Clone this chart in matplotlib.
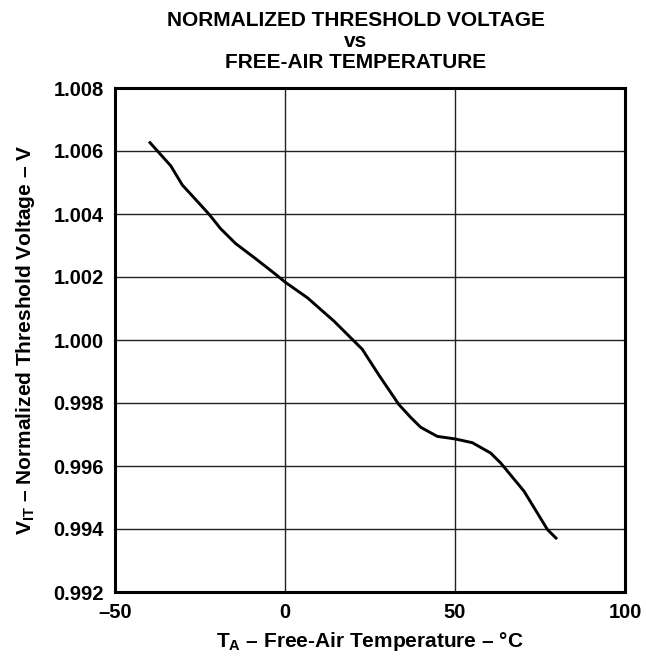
import matplotlib
matplotlib.use("Agg")
import matplotlib.pyplot as plt

plt.rcParams['font.family'] = ['Liberation Sans', 'DejaVu Sans']
plt.rcParams['font.weight'] = 'bold'
plt.rcParams['mathtext.fontset'] = 'custom'
plt.rcParams['mathtext.rm'] = 'Liberation Sans:bold'
plt.rcParams['mathtext.bf'] = 'Liberation Sans:bold'
plt.rcParams['mathtext.it'] = 'Liberation Sans:bold'

temperature = [-40, -33.6, -30.2, -27.3, -22.4, -18.9, -14.5, -9.1, -2.7, 0, 6.6,
               14.4, 19.8, 22.7, 26.7, 28.1, 33.5, 37.0, 39.9, 44.8, 50, 55.1,
               60.5, 63.4, 70.3, 77.2, 80]
voltage = [1.0063, 1.00553, 1.00492, 1.00458, 1.0040, 1.00353, 1.00306, 1.00262,
           1.00208, 1.00184, 1.00134, 1.0006, 1.00002, 0.99971, 0.99904, 0.99881,
           0.99795, 0.99754, 0.99723, 0.99694, 0.99686, 0.99674, 0.99641, 0.9961,
           0.9952, 0.99398, 0.99368]

x_ticks = [-50, 0, 50, 100]
x_tick_labels = ['\u201350', '0', '50', '100']
y_ticks = [0.992, 0.994, 0.996, 0.998, 1.000, 1.002, 1.004, 1.006, 1.008]
y_tick_labels = ['0.992', '0.994', '0.996', '0.998', '1.000', '1.002', '1.004', '1.006', '1.008']

title_lines = ['NORMALIZED THRESHOLD VOLTAGE', 'vs', 'FREE-AIR TEMPERATURE']
x_label = r'$\mathregular{T_A}$ ' + '\u2013 Free-Air Temperature \u2013 \u00b0C'
y_label = r'$\mathregular{V_{IT}}$ ' + '\u2013 Normalized Threshold Voltage \u2013 V'

W, H = 646, 662
fig = plt.figure(figsize=(W / 100, H / 100), dpi=100)
ax = fig.add_axes([115 / W, 1 - 592 / H, 510 / W, 504 / H])

ax.plot(temperature, voltage, color='black', lw=2.1, solid_capstyle='butt')

ax.set_xlim(-50, 100)
ax.set_ylim(0.992, 1.008)
ax.set_xticks(x_ticks)
ax.set_xticklabels(x_tick_labels)
ax.set_yticks(y_ticks)
ax.set_yticklabels(y_tick_labels)
ax.tick_params(length=0, labelsize=14.5)
ax.tick_params(axis='x', pad=8)
ax.tick_params(axis='y', pad=8)
for lbl in ax.get_xticklabels() + ax.get_yticklabels():
    lbl.set_fontweight('bold')

ax.grid(True, color='#222222', lw=1.0)
ax.set_axisbelow(True)
for s in ax.spines.values():
    s.set_linewidth(2.2)
    s.set_color('black')

ax.set_xlabel(x_label, fontsize=15, fontweight='bold', labelpad=6)
ax.set_ylabel(y_label, fontsize=15, fontweight='bold', labelpad=12)

baselines = [26, 47, 68]
for t, b in zip(title_lines, baselines):
    fig.text(356 / W, 1 - b / H, t, ha='center', va='baseline',
             fontsize=15, fontweight='bold')

fig.savefig('out.png', dpi=100)
